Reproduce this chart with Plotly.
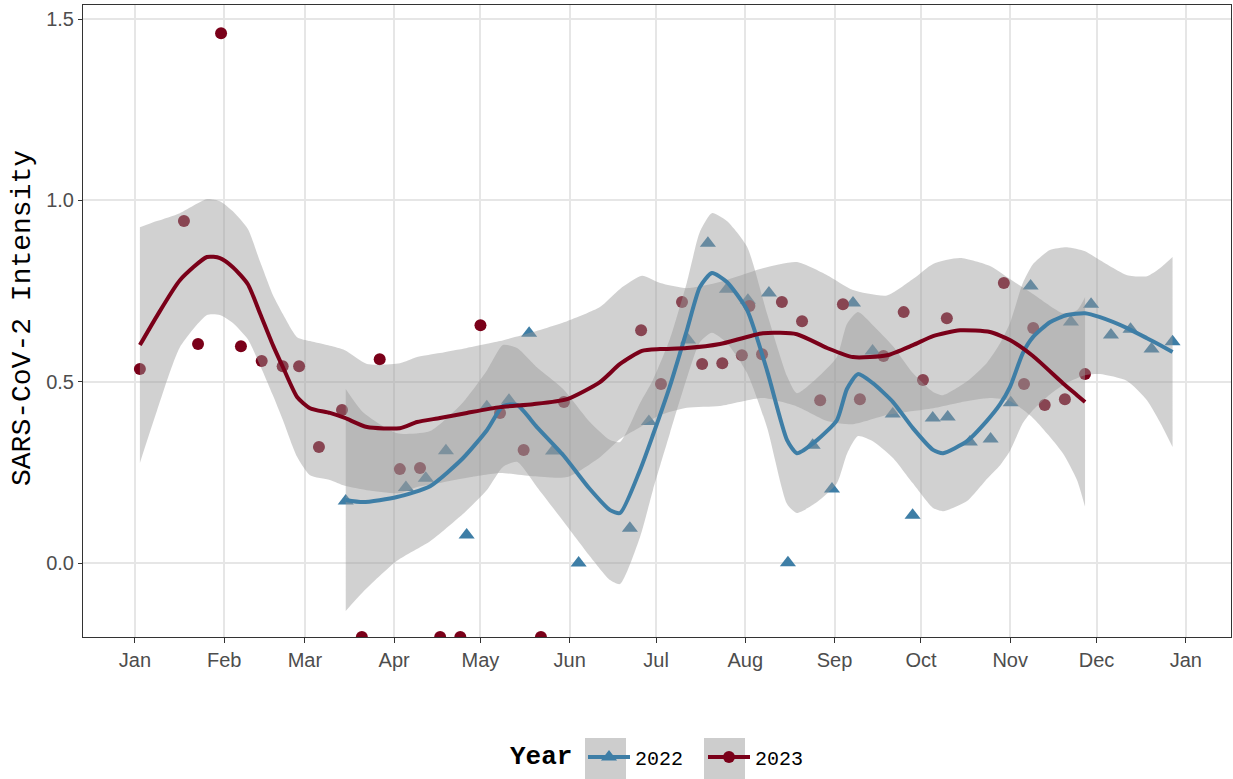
import pandas as pd
import plotly.graph_objects as go

BASE = pd.Timestamp("2022-01-01")

# ---- observed points (day of year, intensity) ----
pts22_day = [73.2, 94.1, 101.0, 108.0, 115.2, 122.2, 129.9, 136.9, 145.2, 154.1,
             171.9, 178.5, 192.1, 199.0, 205.6, 212.9, 220.2, 226.8, 235.4, 242.1,
             249.4, 256.2, 263.2, 270.1, 277.1, 282.3, 290.0, 297.2, 304.2, 311.1,
             325.1, 332.1, 339.0, 345.8, 353.1, 360.4]
pts22_val = [0.171, 0.208, 0.234, 0.310, 0.077, 0.431, 0.449, 0.634, 0.309, 0.000,
             0.096, 0.390, 0.615, 0.882, 0.755, 0.725, 0.745, 0.001, 0.325, 0.204,
             0.717, 0.585, 0.411, 0.132, 0.400, 0.403, 0.334, 0.342, 0.442, 0.764,
             0.665, 0.714, 0.629, 0.645, 0.590, 0.610]

pts23_day = [1.7, 17.0, 21.9, 29.9, 36.8, 44.0, 51.3, 57.0, 63.9, 71.9,
             78.8, 85.0, 92.0, 99.0, 106.0, 113.0, 120.0, 126.8, 135.0, 141.0,
             149.0, 175.8, 182.7, 190.0, 197.0, 204.0, 210.8, 213.4, 217.8, 224.7,
             231.7, 238.0, 245.9, 251.8, 260.0, 267.0, 273.7, 282.0, 301.8, 308.8,
             312.0, 316.0, 323.0, 330.0]
pts23_val = [0.535, 0.943, 0.604, 1.461, 0.598, 0.557, 0.543, 0.543, 0.320, 0.422,
             -0.204, 0.562, 0.259, 0.262, -0.204, -0.204, 0.656, 0.414, 0.312, -0.204,
             0.444, 0.642, 0.494, 0.720, 0.549, 0.551, 0.573, 0.709, 0.576, 0.720,
             0.667, 0.449, 0.714, 0.452, 0.571, 0.692, 0.505, 0.675, 0.772, 0.494,
             0.648, 0.436, 0.452, 0.521]

# ---- smoothed fits with confidence band ----
sm22_day = [73.2, 79.2, 91.0, 102.5, 113.9, 122.3, 127.8, 132.7, 139.6, 148.7,
            158.0, 165.0, 168.5, 175.4, 179.9, 185.8, 191.7, 196.2, 200.4, 205.6,
            212.6, 219.5, 226.5, 229.9, 236.9, 243.8, 247.3, 251.1, 256.3, 263.3,
            270.2, 277.2, 280.7, 289.0, 295.9, 300.5, 303.9, 308.4, 311.9, 317.8,
            323.7, 330.0, 335.2, 344.6, 351.5, 356.0, 360.4]
sm22_fit = [0.174, 0.168, 0.182, 0.212, 0.289, 0.367, 0.433, 0.436, 0.375, 0.298,
            0.204, 0.146, 0.138, 0.256, 0.353, 0.488, 0.642, 0.761, 0.800, 0.775,
            0.698, 0.532, 0.339, 0.303, 0.339, 0.394, 0.480, 0.521, 0.496, 0.444,
            0.372, 0.312, 0.303, 0.336, 0.392, 0.438, 0.485, 0.579, 0.623, 0.664,
            0.684, 0.689, 0.678, 0.648, 0.620, 0.601, 0.582]
sm22_hi = [0.480, 0.416, 0.358, 0.364, 0.443, 0.532, 0.601, 0.593, 0.540, 0.480,
           0.389, 0.339, 0.334, 0.441, 0.505, 0.618, 0.774, 0.913, 0.965, 0.943,
           0.872, 0.689, 0.515, 0.468, 0.510, 0.568, 0.659, 0.692, 0.656, 0.598,
           0.524, 0.472, 0.463, 0.501, 0.552, 0.606, 0.661, 0.772, 0.824, 0.863,
           0.871, 0.860, 0.835, 0.794, 0.791, 0.813, 0.844]
sm22_lo = [-0.132, -0.080, 0.006, 0.060, 0.135, 0.202, 0.265, 0.279, 0.210, 0.116,
           0.019, -0.047, -0.058, 0.071, 0.201, 0.358, 0.510, 0.609, 0.635, 0.607,
           0.524, 0.375, 0.163, 0.138, 0.168, 0.220, 0.301, 0.350, 0.336, 0.290,
           0.220, 0.152, 0.143, 0.171, 0.232, 0.270, 0.309, 0.386, 0.422, 0.465,
           0.497, 0.518, 0.521, 0.502, 0.449, 0.389, 0.320]

sm23_day = [1.7, 7.6, 15.6, 25.0, 29.5, 34.0, 39.2, 43.4, 47.9, 51.4,
            56.3, 60.8, 67.7, 72.9, 80.6, 92.0, 98.0, 105.9, 115.3, 126.8,
            138.2, 150.1, 161.5, 168.5, 176.1, 182.4, 191.7, 203.2, 218.1, 229.9,
            240.4, 249.4, 261.2, 270.2, 277.2, 286.6, 297.0, 303.9, 311.9, 322.3,
            327.2, 330.0]
sm23_fit = [0.601, 0.681, 0.780, 0.844, 0.841, 0.816, 0.769, 0.689, 0.601, 0.540,
            0.458, 0.427, 0.414, 0.400, 0.375, 0.372, 0.389, 0.400, 0.414, 0.430,
            0.438, 0.452, 0.499, 0.549, 0.585, 0.590, 0.593, 0.604, 0.634, 0.631,
            0.593, 0.568, 0.573, 0.601, 0.626, 0.642, 0.637, 0.615, 0.571, 0.496,
            0.463, 0.444]
sm23_hi = [0.926, 0.943, 0.965, 1.004, 0.998, 0.970, 0.921, 0.832, 0.739, 0.686,
           0.623, 0.612, 0.599, 0.587, 0.549, 0.551, 0.568, 0.579, 0.593, 0.612,
           0.637, 0.667, 0.706, 0.756, 0.792, 0.772, 0.758, 0.775, 0.813, 0.830,
           0.794, 0.753, 0.738, 0.783, 0.825, 0.841, 0.819, 0.783, 0.742, 0.689,
           0.697, 0.733]
sm23_lo = [0.276, 0.419, 0.595, 0.684, 0.684, 0.662, 0.617, 0.546, 0.463, 0.394,
           0.293, 0.242, 0.229, 0.213, 0.201, 0.193, 0.210, 0.221, 0.235, 0.248,
           0.239, 0.237, 0.292, 0.342, 0.378, 0.408, 0.428, 0.433, 0.455, 0.432,
           0.392, 0.383, 0.408, 0.419, 0.427, 0.443, 0.455, 0.447, 0.400, 0.303,
           0.229, 0.155]

years = ["2022", "2023"]
colors = {"2022": "#3E7EA6", "2023": "#7A0019"}
symbols = {"2022": "triangle-up", "2023": "circle"}
msize = {"2022": 14, "2023": 12}

MONO = "Courier New, Liberation Mono, monospace"
SANS = "Liberation Sans, Arial, Helvetica, sans-serif"
RIBBON = "rgba(153,153,153,0.45)"


def to_date(days):
    return [BASE + pd.Timedelta(days=float(d)) for d in days]


data = {
    "2022": dict(pd=pts22_day, pv=pts22_val, sd=sm22_day, sf=sm22_fit, hi=sm22_hi, lo=sm22_lo),
    "2023": dict(pd=pts23_day, pv=pts23_val, sd=sm23_day, sf=sm23_fit, hi=sm23_hi, lo=sm23_lo),
}

fig = go.Figure()

# points first
for y in years:
    d = data[y]
    fig.add_trace(go.Scatter(
        x=to_date(d["pd"]), y=d["pv"], mode="markers", showlegend=False,
        marker=dict(symbol=symbols[y], size=msize[y], color=colors[y], line=dict(width=0)),
        cliponaxis=True))

# ribbons over points
for y in years:
    d = data[y]
    fig.add_trace(go.Scatter(x=to_date(d["sd"]), y=d["lo"], mode="lines",
                             line=dict(width=0, shape="spline", smoothing=0.6),
                             showlegend=False, hoverinfo="skip"))
    fig.add_trace(go.Scatter(x=to_date(d["sd"]), y=d["hi"], mode="lines",
                             line=dict(width=0, shape="spline", smoothing=0.6),
                             fill="tonexty", fillcolor=RIBBON,
                             showlegend=False, hoverinfo="skip"))

# fitted lines
for y in years:
    d = data[y]
    fig.add_trace(go.Scatter(x=to_date(d["sd"]), y=d["sf"], mode="lines",
                             line=dict(color=colors[y], width=4, shape="spline", smoothing=0.6),
                             showlegend=False))

# legend entries
for y in years:
    fig.add_trace(go.Scatter(x=[None], y=[None], mode="lines+markers", name=y,
                             line=dict(color=colors[y], width=4),
                             marker=dict(symbol=symbols[y], size=msize[y], color=colors[y])))

W, H, L, T, R, B = 1233, 779, 83, 5, 2, 142
pw, ph = W - L - R, H - T - B


def px(x):
    return (x - L) / pw


def py(y):
    return (H - B - y) / ph


# grey legend key backgrounds
key_boxes = [(585, 626), (704, 745)]
for x0, x1 in key_boxes:
    fig.add_shape(type="rect", xref="paper", yref="paper",
                  x0=px(x0), x1=px(x1), y0=py(738), y1=py(779),
                  fillcolor="#CDCDCD", line=dict(width=0), layer="above")

fig.add_annotation(text="SARS-CoV-2 Intensity", textangle=-90, xref="paper", yref="paper",
                   x=px(22), y=py(318), xanchor="center", yanchor="middle", showarrow=False,
                   font=dict(family=MONO, size=28, color="black"))
fig.add_annotation(text="<b>Year</b>", xref="paper", yref="paper",
                   x=px(508), y=py(757), xanchor="left", yanchor="middle", showarrow=False,
                   font=dict(family=MONO, size=26, color="black"))

fig.update_layout(
    width=W, height=H,
    margin=dict(l=L, r=R, t=T, b=B, autoexpand=False),
    plot_bgcolor="white", paper_bgcolor="white",
    legend=dict(orientation="h", x=px(583), xanchor="left", y=py(757), yanchor="middle",
                traceorder="normal", itemwidth=42, entrywidth=63,
                font=dict(family=MONO, size=20, color="black"),
                bgcolor="rgba(0,0,0,0)"),
    xaxis=dict(type="date", range=[BASE + pd.Timedelta(days=-18.06), BASE + pd.Timedelta(days=380.7)],
               tick0="2022-01-01", dtick="M1", tickformat="%b", automargin=False,
               ticks="outside", ticklen=5, tickcolor="#333333",
               showline=True, mirror=True, linecolor="#333333", linewidth=1,
               showgrid=True, gridcolor="#E6E6E6", gridwidth=1.5, zeroline=False,
               tickfont=dict(family=SANS, size=20, color="#4D4D4D")),
    yaxis=dict(range=[-0.204, 1.539], tick0=0, dtick=0.5, tickformat=".1f", automargin=False,
               ticks="outside", ticklen=4, tickcolor="#333333",
               showline=True, mirror=True, linecolor="#333333", linewidth=1,
               showgrid=True, gridcolor="#E6E6E6", gridwidth=1.5, zeroline=False,
               tickfont=dict(family=SANS, size=20, color="#4D4D4D")),
)

fig.write_html("out.html", config={"displayModeBar": False},
               post_script="document.body.style.margin='0';document.body.style.padding='0';")
